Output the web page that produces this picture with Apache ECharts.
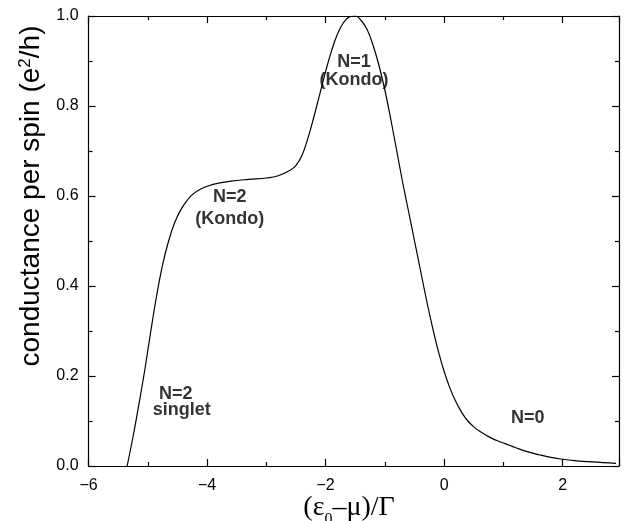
<!DOCTYPE html>
<html><head><meta charset="utf-8">
<script src="https://cdn.jsdelivr.net/npm/echarts@6/dist/echarts.min.js"></script>
<style>html,body{margin:0;padding:0;background:#fff}#c{width:624px;height:521px}</style>
</head><body><div id="c"></div>
<script>
var xVals = [-5.35,-5.25,-5.15,-5.05,-4.95,-4.85,-4.75,-4.65,-4.55,-4.45,-4.35,-4.25,-4.1,-3.9,-3.6,-3.3,-3.0,-2.8,-2.6,-2.5,-2.4,-2.3,-2.2,-2.1,-2.0,-1.9,-1.8,-1.7,-1.6,-1.5,-1.4,-1.3,-1.2,-1.1,-1.0,-0.9,-0.8,-0.7,-0.6,-0.5,-0.4,-0.3,-0.2,-0.1,0.0,0.1,0.2,0.3,0.4,0.5,0.6,0.7,0.8,0.9,1.0,1.1,1.2,1.4,1.6,1.8,2.0,2.2,2.5,2.9];
var gVals = [0,0.065,0.138,0.215,0.30,0.38,0.448,0.50,0.54,0.568,0.588,0.603,0.616,0.626,0.633,0.637,0.640,0.645,0.657,0.668,0.69,0.728,0.775,0.826,0.877,0.923,0.96,0.985,0.998,1.0,0.99,0.97,0.935,0.89,0.835,0.77,0.70,0.63,0.565,0.50,0.435,0.37,0.31,0.256,0.210,0.172,0.142,0.118,0.100,0.087,0.077,0.069,0.062,0.056,0.051,0.046,0.041,0.032,0.025,0.019,0.015,0.012,0.009,0.006];
var xTicks = [-6,-4,-2,0,2];
var yTicks = [0.0,0.2,0.4,0.6,0.8,1.0];
var annText = ['N=1','(Kondo)','N=2','(Kondo)','N=2','singlet','N=0'];
var annX = [-1.52,-1.52,-3.62,-3.62,-4.53,-4.43,1.41];
var annY = [0.897,0.858,0.597,0.549,0.16,0.124,0.107];

var chart = echarts.init(document.getElementById('c'));
var lineData = xVals.map(function(x,i){return [x,gVals[i]];});
var annData = annText.map(function(t,i){return [annX[i],annY[i],t];});
var axisLine = {show:true,onZero:false,lineStyle:{color:'#000',width:1.2}};
function xAxisBase(pos,showLabel){
  return {type:'value',position:pos,min:-6,max:2.95,interval:2,
    axisLine:axisLine,
    axisTick:{show:true,inside:true,length:7,lineStyle:{color:'#000',width:1.2}},
    minorTick:{show:true,splitNumber:2,length:4,lineStyle:{color:'#000',width:1.2}},
    splitLine:{show:false},
    axisLabel:{show:showLabel,fontFamily:'Liberation Sans',fontSize:16,color:'#000',margin:12,
      showMaxLabel:false,
      formatter:function(v){return xTicks.indexOf(v)>=0?String(v).replace('-','\u2212'):'';}}};
}
function yAxisBase(pos,showLabel){
  return {type:'value',position:pos,min:0,max:1,interval:0.2,
    axisLine:axisLine,
    axisTick:{show:true,inside:true,length:7,lineStyle:{color:'#000',width:1.2}},
    minorTick:{show:true,splitNumber:2,length:4,lineStyle:{color:'#000',width:1.2}},
    splitLine:{show:false},
    axisLabel:{show:showLabel,fontFamily:'Liberation Sans',fontSize:16,color:'#000',margin:10,
      formatter:function(v){return yTicks.indexOf(Math.round(v*10)/10)>=0?v.toFixed(1):'';}}};
}
chart.setOption({
  animation:false,
  grid:{left:88.6,right:5,top:16,bottom:55,containLabel:false},
  xAxis:[xAxisBase('bottom',true),xAxisBase('top',false)],
  yAxis:[yAxisBase('left',true),yAxisBase('right',false)],
  series:[
    {type:'line',data:lineData,smooth:0.4,showSymbol:false,symbol:'none',
     lineStyle:{color:'#000',width:1.2}},
    {type:'scatter',data:annData,symbolSize:0,
     label:{show:true,position:'inside',formatter:function(p){return p.data[2];},
       fontFamily:'Liberation Sans',fontWeight:'bold',fontSize:18,color:'#000',textBorderWidth:0}}
  ],
  graphic:[
    {type:'text',x:31,y:196,rotation:Math.PI/2,
     style:{text:'conductance per spin (e{sup|2}/h)',fontFamily:'Liberation Sans',fontSize:28,fill:'#000',
       align:'center',verticalAlign:'middle',
       rich:{sup:{fontSize:17,verticalAlign:'top',fontFamily:'Liberation Sans'}}}},
    {type:'text',x:349,y:508,
     style:{text:'(\u03b5{sub|0}\u2013\u03bc)/\u0393',fontFamily:'Liberation Serif',fontSize:28,fill:'#000',
       align:'center',verticalAlign:'middle',
       rich:{sub:{fontSize:16,verticalAlign:'bottom',fontFamily:'Liberation Serif',padding:[0,0,-6,0]}}}}
  ]
});
</script></body></html>
